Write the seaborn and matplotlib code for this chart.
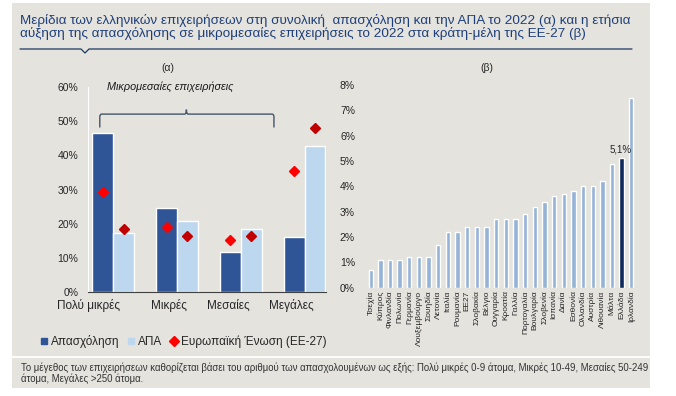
import numpy as np
import pandas as pd
import matplotlib.pyplot as plt
import matplotlib.patches as mpatches
from matplotlib.lines import Line2D
from matplotlib.path import Path
from matplotlib.ticker import PercentFormatter
import seaborn as sns

## DATA
# (a) shares in total employment and GVA, 2022 (%)
categories = ["Πολύ μικρές", "Μικρές", "Μεσαίες", "Μεγάλες"]
employment = [46.5, 24.6, 11.8, 16.2]
gva = [17.3, 20.7, 18.4, 42.8]
eu_employment = [29.2, 19.1, 15.3, 35.4]
eu_gva = [18.5, 16.3, 16.3, 48.0]

# (b) annual SME employment growth 2022 (%)
countries = ["Τσεχία", "Κύπρος", "Φινλανδία", "Πολωνία", "Γερμανία", "Λουξεμβούργο",
             "Σουηδία", "Λετονία", "Ιταλία", "Ρουμανία", "ΕΕ27", "Σλοβακία", "Βέλγιο",
             "Ουγγαρία", "Κροατία", "Γαλλία", "Πορτογαλία", "Βουλγαρία", "Σλοβενία",
             "Ισπανία", "Δανία", "Εσθονία", "Ολλανδία", "Αυστρία", "Λιθουανία", "Μάλτα",
             "Ελλάδα", "Ιρλανδία"]
growth = [0.7, 1.1, 1.1, 1.1, 1.2, 1.2, 1.2, 1.7, 2.2, 2.2, 2.4, 2.4, 2.4,
          2.7, 2.7, 2.7, 2.9, 3.2, 3.4, 3.6, 3.7, 3.8, 4.0, 4.0, 4.2, 4.9, 5.1, 7.5]

title = ("Μερίδια των ελληνικών επιχειρήσεων στη συνολική  απασχόληση και την ΑΠΑ το 2022 (α) και η ετήσια\n"
         "αύξηση της απασχόλησης σε μικρομεσαίες επιχειρήσεις το 2022 στα κράτη-μέλη της ΕΕ-27 (β)")
note = ("Το μέγεθος των επιχειρήσεων καθορίζεται βάσει του αριθμού των απασχολουμένων ως εξής: "
        "Πολύ μικρές 0-9 άτομα, Μικρές 10-49, Μεσαίες 50-249\nάτομα, Μεγάλες >250 άτομα.")

## STYLE
PANEL = "#e4e3de"
DARK = "#2f5597"
LIGHT = "#bdd7ee"
STEEL = "#95b3d7"
NAVY = "#0e2a5c"
TITLE_C = "#1f3f7a"

sns.set_style("white")
plt.rcParams["font.family"] = ["Liberation Sans", "DejaVu Sans"]

W, H = 676, 396
fig = plt.figure(figsize=(W / 100, H / 100), dpi=100)
fig.patch.set_facecolor("white")


def fx(x):
    return x / W


def fy(y):
    return 1 - y / H


# grey panel + separator above the note
fig.patches.append(mpatches.Rectangle((fx(12), fy(388)), 638 / W, 385 / H,
                                      transform=fig.transFigure, facecolor=PANEL,
                                      edgecolor="none", zorder=-10))
fig.add_artist(Line2D([fx(12), fx(650)], [fy(357), fy(357)], color="white", lw=1.3))

# title + underline with the little notch
fig.text(fx(20), fy(14), title, va="top", ha="left", fontsize=9.7, color=TITLE_C, linespacing=0.98)
fig.add_artist(Line2D([fx(20), fx(81), fx(85), fx(89), fx(632)],
                      [fy(49), fy(49), fy(53), fy(49), fy(49)], color="#1f3864", lw=0.9))

# ======= (a) =========
ax1 = fig.add_axes([fx(88.3), fy(292.3), 237.7 / W, 205.6 / H])
ax1.set_facecolor("none")
df_left = pd.DataFrame({
    "cat": categories * 2,
    "series": ["Απασχόληση"] * 4 + ["ΑΠΑ"] * 4,
    "value": np.array(employment + gva) / 100,
})
sns.barplot(data=df_left, x="cat", y="value", hue="series", palette=[DARK, LIGHT],
            width=0.65, gap=0, saturation=1, errorbar=None, legend=False, ax=ax1)
xpos = np.arange(len(categories))
ax1.plot(xpos - 0.1625, np.array(eu_employment) / 100, "D", color="#ff0000", ms=5.3, ls="none", zorder=3)
ax1.plot(xpos + 0.1625, np.array(eu_gva) / 100, "D", color="#c00000", ms=5.3, ls="none", zorder=3)

ax1.set_xlim(-0.327, 3.336)
ax1.set_ylim(0, 0.6)
ax1.set_yticks(np.arange(0, 0.61, 0.1))
ax1.yaxis.set_major_formatter(PercentFormatter(1.0, decimals=0))
label_shift = [-0.39, -0.13, -0.19, -0.21]
ax1.set_xticks(xpos + np.array(label_shift), labels=categories)
ax1.set_xlabel("")
ax1.set_ylabel("")
ax1.tick_params(axis="y", length=0, labelsize=7.5, pad=7, labelcolor="#262626")
ax1.tick_params(axis="x", length=0, labelsize=8.5, pad=5, labelcolor="#262626")
for s in ["top", "right"]:
    ax1.spines[s].set_visible(False)
ax1.spines["left"].set_color("white")
ax1.spines["bottom"].set_color("#404040")

# curly bracket over the SMEs
x0, xm, x1, yb, yh, yp = -0.21, 1.148, 2.52, 0.481, 0.52, 0.533
verts = [(x0, yb), (x0, yh - 0.008), (x0, yh), (x0 + 0.03, yh),
         (xm - 0.03, yh), (xm, yh), (xm, yp), (xm, yh), (xm + 0.03, yh),
         (x1 - 0.03, yh), (x1, yh), (x1, yh - 0.008), (x1, yb)]
codes = [Path.MOVETO, Path.LINETO, Path.CURVE3, Path.CURVE3,
         Path.LINETO, Path.CURVE3, Path.CURVE3, Path.CURVE3, Path.CURVE3,
         Path.LINETO, Path.CURVE3, Path.CURVE3, Path.LINETO]
ax1.add_patch(mpatches.PathPatch(Path(verts, codes), fill=False, edgecolor="#44546a", lw=1, clip_on=False))
ax1.text(0.90, 0.60, "Μικρομεσαίες επιχειρήσεις", style="italic", fontsize=7.8,
         ha="center", va="center", color="#1a1a1a", clip_on=False)
fig.text(fx(168), fy(68), "(α)", ha="center", va="center", fontsize=7.5, color="#262626")

# ======= (b) =========
ax2 = fig.add_axes([fx(362), fy(287.7), 278 / W, 202.7 / H])
ax2.set_facecolor("none")
df_right = pd.DataFrame({"country": countries, "growth": np.array(growth) / 100})
palette = {c: (NAVY if c == "Ελλάδα" else STEEL) for c in countries}
sns.barplot(data=df_right, x="country", y="growth", hue="country", palette=palette,
            width=0.45, saturation=1, errorbar=None, legend=False, ax=ax2)
ax2.set_xlim(-0.9, 27.9)
ax2.set_ylim(0, 0.08)
ax2.set_yticks(np.arange(0, 0.081, 0.01))
ax2.yaxis.set_major_formatter(PercentFormatter(1.0, decimals=0))
ax2.set_xlabel("")
ax2.set_ylabel("")
ax2.tick_params(axis="y", length=0, labelsize=7.5, pad=5, labelcolor="#262626")
ax2.tick_params(axis="x", length=0, labelsize=6, pad=2, labelcolor="#262626", rotation=90)
sns.despine(ax=ax2, left=True, bottom=True)

gr = countries.index("Ελλάδα")
ax2.annotate(f"{growth[gr]:.1f}".replace(".", ",") + "%", (gr, growth[gr] / 100),
             xytext=(-1, 3), textcoords="offset points", ha="center", va="bottom",
             fontsize=7, color="#262626")
fig.text(fx(487), fy(68), "(β)", ha="center", va="center", fontsize=7.5, color="#262626")

# legend
handles = [
    Line2D([], [], marker="s", color=DARK, ls="none", ms=5),
    Line2D([], [], marker="s", color=LIGHT, ls="none", ms=5),
    Line2D([], [], marker="D", color="#ff0000", ls="none", ms=5),
]
fig.legend(handles, ["Απασχόληση", "ΑΠΑ", "Ευρωπαϊκή Ένωση (ΕΕ-27)"],
           loc="center left", bbox_to_anchor=(fx(40), fy(341.7)), ncol=3, frameon=False,
           fontsize=8.5, handlelength=0.6, handletextpad=0.3, columnspacing=0.7,
           borderaxespad=0, borderpad=0, labelcolor="#262626")

# note
fig.text(fx(21), fy(362), note, va="top", ha="left", fontsize=6.9, color="#333333", linespacing=1.1)

fig.savefig("out.png", dpi=100)
plt.close()
